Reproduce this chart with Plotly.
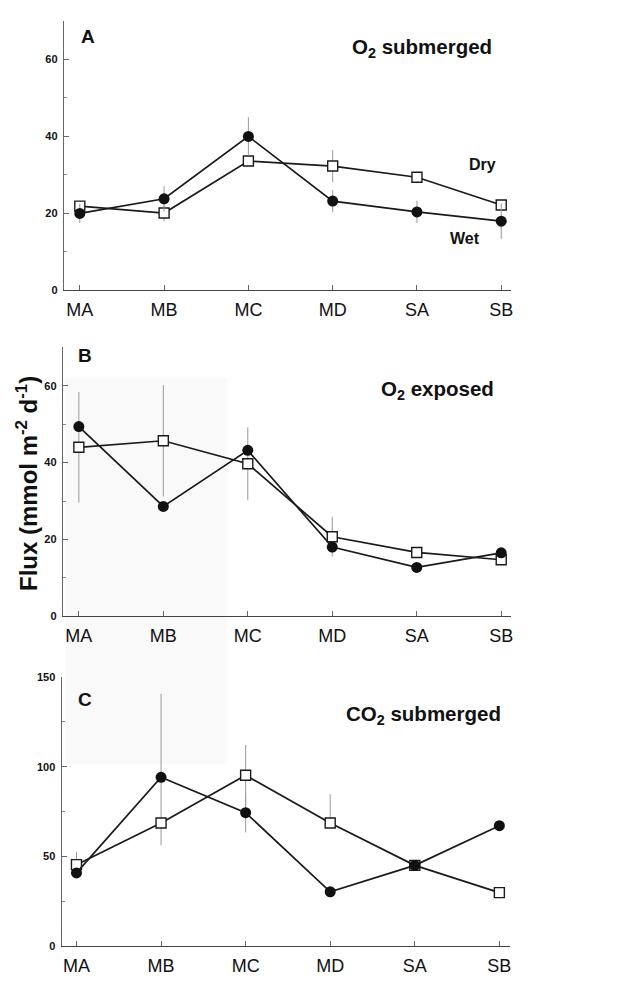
import plotly.graph_objects as go

W, H = 625, 985

sites = ["MA", "MB", "MC", "MD", "SA", "SB"]

# Panel A: O2 submerged
a_wet = [20.0, 23.8, 40.0, 23.2, 20.4, 18.0]
a_wet_err = [2.5, 3.3, 5.0, 2.9, 2.9, 4.6]
a_dry = [21.9, 20.1, 33.6, 32.3, 29.4, 22.2]
a_dry_err = [1.2, 2.1, 1.0, 4.2, 0.8, 1.0]

# Panel B: O2 exposed
b_wet = [49.4, 28.6, 43.2, 18.0, 12.7, 16.5]
b_wet_err = [1.0, 1.0, 1.0, 1.5, 0.8, 0.8]
b_dry = [44.0, 45.7, 39.7, 20.7, 16.6, 14.7]
b_dry_err = [14.4, 14.5, 9.5, 5.2, 0.8, 0.8]

# Panel C: CO2 submerged
c_wet = [40.8, 94.1, 74.4, 30.3, 45.0, 67.1]
c_wet_err_plus = [1.5, 46.5, 11.0, 1.5, 1.5, 1.5]
c_wet_err_minus = [1.5, 13.0, 11.0, 1.5, 1.5, 1.5]
c_dry = [45.4, 68.6, 95.2, 68.6, 45.0, 29.8]
c_dry_err_plus = [7.0, 12.5, 16.9, 16.0, 1.0, 1.0]
c_dry_err_minus = [7.0, 12.5, 16.9, 2.0, 1.0, 1.0]

FONT = "Liberation Sans, Arial, sans-serif"
xs = list(range(len(sites)))

def px(x):
    return x / W

def py(y):
    return 1 - y / H

fig = go.Figure()

panels = [
    dict(wet=a_wet, wp=a_wet_err, wm=a_wet_err, dry=a_dry, dp=a_dry_err, dm=a_dry_err,
         xa="x", ya="y"),
    dict(wet=b_wet, wp=b_wet_err, wm=b_wet_err, dry=b_dry, dp=b_dry_err, dm=b_dry_err,
         xa="x2", ya="y2"),
    dict(wet=c_wet, wp=c_wet_err_plus, wm=c_wet_err_minus, dry=c_dry, dp=c_dry_err_plus,
         dm=c_dry_err_minus, xa="x3", ya="y3"),
]

for p in panels:
    fig.add_trace(go.Scatter(
        x=xs, y=p["dry"], mode="lines+markers", name="Dry", xaxis=p["xa"], yaxis=p["ya"],
        line=dict(color="#1a1a1a", width=1.7),
        marker=dict(symbol="square", size=10, color="white", line=dict(color="#1a1a1a", width=1.4)),
        error_y=dict(type="data", symmetric=False, array=p["dp"], arrayminus=p["dm"],
                     color="#999999", thickness=1, width=0),
        showlegend=False,
    ))
    fig.add_trace(go.Scatter(
        x=xs, y=p["wet"], mode="lines+markers", name="Wet", xaxis=p["xa"], yaxis=p["ya"],
        line=dict(color="#1a1a1a", width=1.7),
        marker=dict(symbol="circle", size=11, color="#111111", line=dict(color="#111111", width=0)),
        error_y=dict(type="data", symmetric=False, array=p["wp"], arrayminus=p["wm"],
                     color="#999999", thickness=1, width=0),
        showlegend=False,
    ))

xcommon = dict(
    tickmode="array", tickvals=xs, ticktext=sites,
    ticks="inside", ticklen=5, tickcolor="#666", tickwidth=1,
    showline=True, linecolor="#444", linewidth=1,
    showgrid=False, zeroline=False,
    tickfont=dict(family=FONT, size=18, color="#111"),
    ticklabelstandoff=3,
)
ycommon = dict(
    ticks="inside", ticklen=5, tickcolor="#666", tickwidth=1,
    showline=True, linecolor="#666", linewidth=1,
    showgrid=False, zeroline=False,
    tickfont=dict(family=FONT, size=11, color="#111", weight="bold"),
    ticklabelstandoff=3,
)

fig.update_layout(
    width=W, height=H,
    margin=dict(l=0, r=0, t=0, b=0),
    paper_bgcolor="white", plot_bgcolor="rgba(0,0,0,0)",
    xaxis=dict(xcommon, domain=[px(64), px(513)], range=[-0.19, 5.12], anchor="y"),
    yaxis=dict(ycommon, domain=[py(288), py(15)], range=[0, 70], tickvals=[0, 20, 40, 60],
               minor=dict(tickvals=[10, 30, 50], ticklen=3, tickcolor="#888", ticks="inside"),
               anchor="x"),
    xaxis2=dict(xcommon, domain=[px(63), px(513)], range=[-0.19, 5.12], anchor="y2"),
    yaxis2=dict(ycommon, domain=[py(617.7), py(345.7)], range=[0, 70], tickvals=[0, 20, 40, 60],
                minor=dict(tickvals=[10, 30, 50], ticklen=3, tickcolor="#888", ticks="inside"),
                anchor="x2"),
    xaxis3=dict(xcommon, domain=[px(61.7), px(512)], range=[-0.177, 5.13], anchor="y3"),
    yaxis3=dict(ycommon, domain=[py(951.7), py(679.3)], range=[0, 150], tickvals=[0, 50, 100, 150],
                minor=dict(tickvals=[25, 75, 125], ticklen=3, tickcolor="#888", ticks="inside"),
                anchor="x3"),
    shapes=[dict(type="rect", xref="paper", yref="paper", x0=px(65), x1=px(228),
                 y0=py(767), y1=py(377), fillcolor="#f9f9f9", line=dict(width=0), layer="below")],
)

def ann(text, x, y, size, xanchor="center", bold=True, yanchor="middle", angle=0):
    fig.add_annotation(text=text, x=px(x), y=py(y), xref="paper", yref="paper",
                       xanchor=xanchor, yanchor=yanchor, showarrow=False, textangle=angle,
                       font=dict(family=FONT, size=size, color="#111",
                                 weight="bold" if bold else "normal"))

ann("A", 88, 31, 19)
ann("O<sub>2</sub> submerged", 351, 43, 20.5, xanchor="left")
ann("Dry", 484, 160, 16)
ann("Wet", 466, 235, 16)
ann("B", 85, 354, 19)
ann("O<sub>2</sub> exposed", 380, 389, 20.5, xanchor="left")
ann("C", 85, 702, 19)
ann("CO<sub>2</sub> submerged", 345, 718, 20.5, xanchor="left")
ann("Flux (mmol m<sup>-2</sup> d<sup>-1</sup>)", 27, 483, 24, angle=-90)

fig.write_html("out.html", post_script="document.body.style.margin='0px';",
               config={"displayModeBar": False})
